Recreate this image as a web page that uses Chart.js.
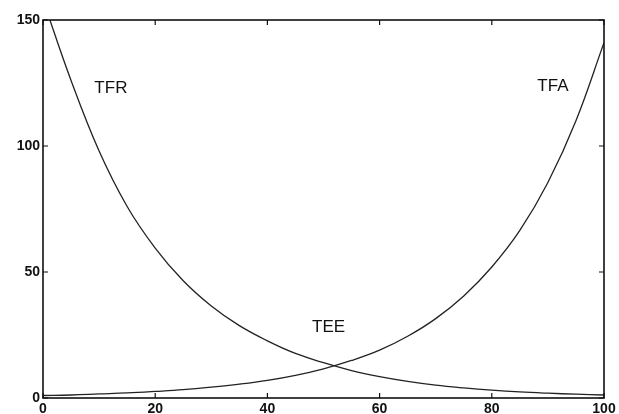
<!DOCTYPE html>
<html>
<head>
<meta charset="utf-8">
<script src="https://cdn.jsdelivr.net/npm/chart.js@4/dist/chart.umd.min.js"></script>
<style>
  html, body { margin: 0; padding: 0; background: #fff; }
  .wrap { width: 619px; height: 414px; position: relative; }
</style>
</head>
<body>
<div class="wrap"><canvas id="curveChart"></canvas></div>
<script>
const xValues = [0, 5, 10, 15, 20, 25, 30, 35, 40, 45, 50, 55, 60, 65, 70, 75, 80, 85, 90, 95, 100];
const tfrValues = [158, 126, 98, 76, 59.5, 46.5, 36.5, 28.7, 22.7, 17.7, 14, 10.9, 8.5, 6.6, 5.1, 4, 3.1, 2.4, 1.9, 1.5, 1.2];
const tfaValues = [1.0, 1.2, 1.6, 2.0, 2.6, 3.3, 4.3, 5.5, 7.0, 9.0, 11.6, 14.9, 19, 24.5, 31.5, 40.5, 52, 66.5, 85.5, 110, 141];
const xTicks = [0, 20, 40, 60, 80, 100];
const yTicks = [0, 50, 100, 150];

// curve names, written inside the plot
const noteText = ['TFR', 'TFA', 'TEE'];
const noteX = [12.1, 90.9, 50.9];
const noteY = [123, 123.8, 27.9];

const toPoints = (ys) => xValues.map((x, i) => ({ x: x, y: ys[i] }));

// box round the plot, ticks pointing inwards, and the curve names
const framePlugin = {
    id: 'frame',
    afterDatasetsDraw(chart) {
        const ctx = chart.ctx;
        const area = chart.chartArea;
        const xs = chart.scales.x;
        const ys = chart.scales.y;
        ctx.save();
        ctx.strokeStyle = '#111';
        ctx.lineWidth = 1.6;
        ctx.strokeRect(area.left, area.top, area.right - area.left, area.bottom - area.top);

        ctx.lineWidth = 1.2;
        ctx.beginPath();
        xTicks.forEach(v => {
            const px = xs.getPixelForValue(v);
            ctx.moveTo(px, area.bottom);
            ctx.lineTo(px, area.bottom - 5);
            ctx.moveTo(px, area.top);
            ctx.lineTo(px, area.top + 5);
        });
        yTicks.forEach(v => {
            const py = ys.getPixelForValue(v);
            ctx.moveTo(area.left, py);
            ctx.lineTo(area.left + 5, py);
            ctx.moveTo(area.right, py);
            ctx.lineTo(area.right - 5, py);
        });
        ctx.stroke();

        ctx.fillStyle = '#111';
        ctx.font = '17px "Liberation Sans", Arial, sans-serif';
        ctx.textAlign = 'center';
        ctx.textBaseline = 'middle';
        noteText.forEach((t, i) => {
            ctx.fillText(t, xs.getPixelForValue(noteX[i]), ys.getPixelForValue(noteY[i]));
        });
        ctx.restore();
    }
};

const tickFont = { family: '"Liberation Sans", Arial, sans-serif', size: 14, weight: 'bold' };

const ctxCurves = document.getElementById('curveChart').getContext('2d');
new Chart(ctxCurves, {
    type: 'line',
    data: {
        datasets: [
            {
                label: 'TFR',
                data: toPoints(tfrValues),
                borderColor: '#222',
                borderWidth: 1.3,
                pointRadius: 0,
                tension: 0.4,
                fill: false,
            },
            {
                label: 'TFA',
                data: toPoints(tfaValues),
                borderColor: '#222',
                borderWidth: 1.3,
                pointRadius: 0,
                tension: 0.4,
                fill: false,
            }
        ]
    },
    options: {
        responsive: true,
        maintainAspectRatio: false,
        animation: false,
        layout: { padding: { top: 20, right: 15, left: 0, bottom: 0 } },
        plugins: {
            legend: { display: false },
            tooltip: { enabled: false }
        },
        scales: {
            x: {
                type: 'linear',
                min: 0,
                max: 100,
                afterBuildTicks: (scale) => { scale.ticks = xTicks.map(v => ({ value: v })); },
                afterFit: (scale) => { scale.height = 16; },
                grid: { display: false, drawTicks: false },
                border: { display: false },
                ticks: { color: '#111', font: tickFont, padding: 3, maxRotation: 0 }
            },
            y: {
                type: 'linear',
                min: 0,
                max: 150,
                afterBuildTicks: (scale) => { scale.ticks = yTicks.map(v => ({ value: v })); },
                afterFit: (scale) => { scale.width = 43; },
                grid: { display: false, drawTicks: false },
                border: { display: false },
                ticks: { color: '#111', font: tickFont, padding: 3 }
            }
        }
    },
    plugins: [framePlugin]
});
</script>
</body>
</html>
